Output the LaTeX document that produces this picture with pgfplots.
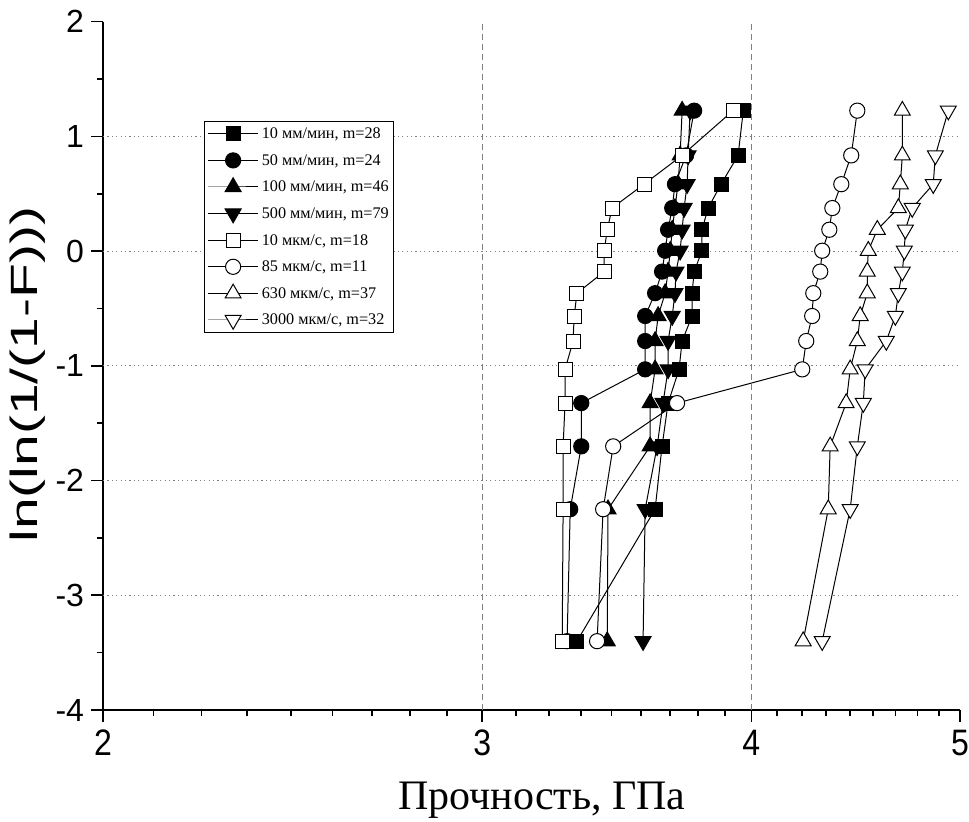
\documentclass[border=0pt]{standalone}
\usepackage{fontspec}
\setmainfont{Liberation Serif}
\newfontfamily\arial{Liberation Sans}
\usepackage{pgfplots}
\usepackage{pgfplotstable}
\pgfplotsset{compat=1.18}
\pgfplotstableread{
y s1 s2 s3 s4 s5 s6 s7 s8
-3.400 3.320 3.285 3.429 3.563 3.268 3.392 4.228 4.315
-2.250 3.609 3.296 3.432 3.571 3.271 3.414 4.343 4.446
-1.702 3.636 3.335 3.590 3.617 3.271 3.451 4.352 4.480
-1.325 3.660 3.335 3.590 3.640 3.278 3.695 4.427 4.509
-1.031 3.703 3.571 3.609 3.660 3.278 4.224 4.446 4.518
-0.784 3.715 3.571 3.609 3.660 3.306 4.242 4.480 4.621
-0.566 3.755 3.571 3.621 3.676 3.310 4.269 4.494 4.666
-0.367 3.755 3.609 3.648 3.687 3.320 4.274 4.528 4.681
-0.179 3.763 3.636 3.660 3.691 3.418 4.306 4.528 4.701
0.003 3.795 3.648 3.668 3.707 3.418 4.315 4.533 4.711
0.186 3.795 3.660 3.676 3.715 3.429 4.348 4.577 4.716
0.375 3.820 3.676 3.687 3.723 3.447 4.362 4.681 4.751
0.583 3.873 3.687 3.699 3.735 3.567 4.404 4.691 4.859
0.834 3.944 3.731 3.707 3.739 3.715 4.451 4.701 4.870
1.224 3.966 3.763 3.715 3.747 3.923 4.480 4.701 4.938
}\datatable
\begin{document}
\begin{tikzpicture}
\path[use as bounding box] (-51.5pt,-55.5pt) rectangle (433pt,355pt);
\begin{axis}[
  at={(0pt,0pt)}, anchor=south west,
  scale only axis, width=428.5pt, height=344.2pt,
  xmode=log, xmin=2, xmax=5, ymin=-4, ymax=2,
  axis x line=bottom, axis y line=left,
  x axis line style={-, line width=1pt, shorten <=-6pt},
  y axis line style={-, line width=1pt},
  xtick={2,3,4,5}, xticklabels={2,3,4,5},
  minor xtick={2.1111,2.2222,2.3333,2.4444,2.5556,2.6667,2.7778,2.8889,
               3.1111,3.2222,3.3333,3.4444,3.5556,3.6667,3.7778,3.8889,
               4.1111,4.2222,4.3333,4.4444,4.5556,4.6667,4.7778,4.8889},
  ytick={-4,-3,-2,-1,0,1,2}, yticklabels={-4,-3,-2,-1,0,1,2},
  minor ytick={-3.5,-2.5,-1.5,-0.5,0.5,1.5},
  tick align=outside, major tick length=6pt, minor tick length=3.2pt,
  tick style={black, line width=0.8pt},
  extra x ticks={3,4}, extra x tick labels={},
  extra x tick style={grid=major, tick style={draw=none}},
  extra y ticks={-3,-2,-1,0,1}, extra y tick labels={},
  extra y tick style={grid=major, tick style={draw=none}},
  x grid style={gray, line width=0.5pt, dash pattern=on 3pt off 2pt},
  y grid style={gray, line width=0.5pt, dash pattern=on 0.6pt off 1.6pt},
  xticklabel style={font=\arial\fontsize{16}{18}\selectfont, yscale=1.15},
  yticklabel style={font=\arial\fontsize{16}{18}\selectfont},
  xlabel={Прочность, ГПа},
  xlabel style={font=\fontsize{21}{25}\selectfont, at={(axis description cs:0.512,-0.131)}, anchor=center},
  ylabel={ln(ln(1/(1-F)))},
  ylabel style={font=\arial\fontsize{19}{22}\selectfont, at={(axis description cs:-0.088,0.487)}, anchor=center, xscale=1.5},
  legend style={at={(axis description cs:0.118,0.8555)}, anchor=north west,
    draw=black, line width=0.5pt, font=\fontsize{8.1}{9.6}\selectfont,
    inner sep=1.5pt, row sep=4.1pt,
    nodes={inner sep=0.6pt, text height=6.5pt, text depth=1.5pt},
    /tikz/every odd column/.style={column sep=1pt}},
  legend cell align=left,
  legend image code/.code={\draw[mark repeat=2, mark phase=2, #1] plot coordinates {(0pt,0pt) (12.5pt,0pt) (25pt,0pt)};},
  every axis plot/.append style={black, line width=0.5pt},
]
\addplot[mark=square*, mark size=3.5pt, mark options={fill=black}] table[x=s1, y=y] {\datatable};
\addlegendentry{10 мм/мин, m=28}
\addplot[mark=*, mark size=3.8pt, mark options={fill=black}] table[x=s2, y=y] {\datatable};
\addlegendentry{50 мм/мин, m=24}
\addplot[mark=triangle*, mark size=4.6pt, mark options={fill=black}] table[x=s3, y=y] {\datatable};
\addlegendentry{100 мм/мин, m=46}
\addplot[mark=triangle*, mark size=4.6pt, mark options={fill=black, rotate=180}] table[x=s4, y=y] {\datatable};
\addlegendentry{500 мм/мин, m=79}
\addplot[mark=square*, mark size=3.5pt, mark options={fill=white}] table[x=s5, y=y] {\datatable};
\addlegendentry{10 мкм/с, m=18}
\addplot[mark=*, mark size=3.8pt, mark options={fill=white}] table[x=s6, y=y] {\datatable};
\addlegendentry{85 мкм/с, m=11}
\addplot[mark=triangle*, mark size=4.6pt, mark options={fill=white}] table[x=s7, y=y] {\datatable};
\addlegendentry{630 мкм/с, m=37}
\addplot[mark=triangle*, mark size=4.6pt, mark options={fill=white, rotate=180}] table[x=s8, y=y] {\datatable};
\addlegendentry{3000 мкм/с, m=32}
\end{axis}
\end{tikzpicture}
\end{document}
